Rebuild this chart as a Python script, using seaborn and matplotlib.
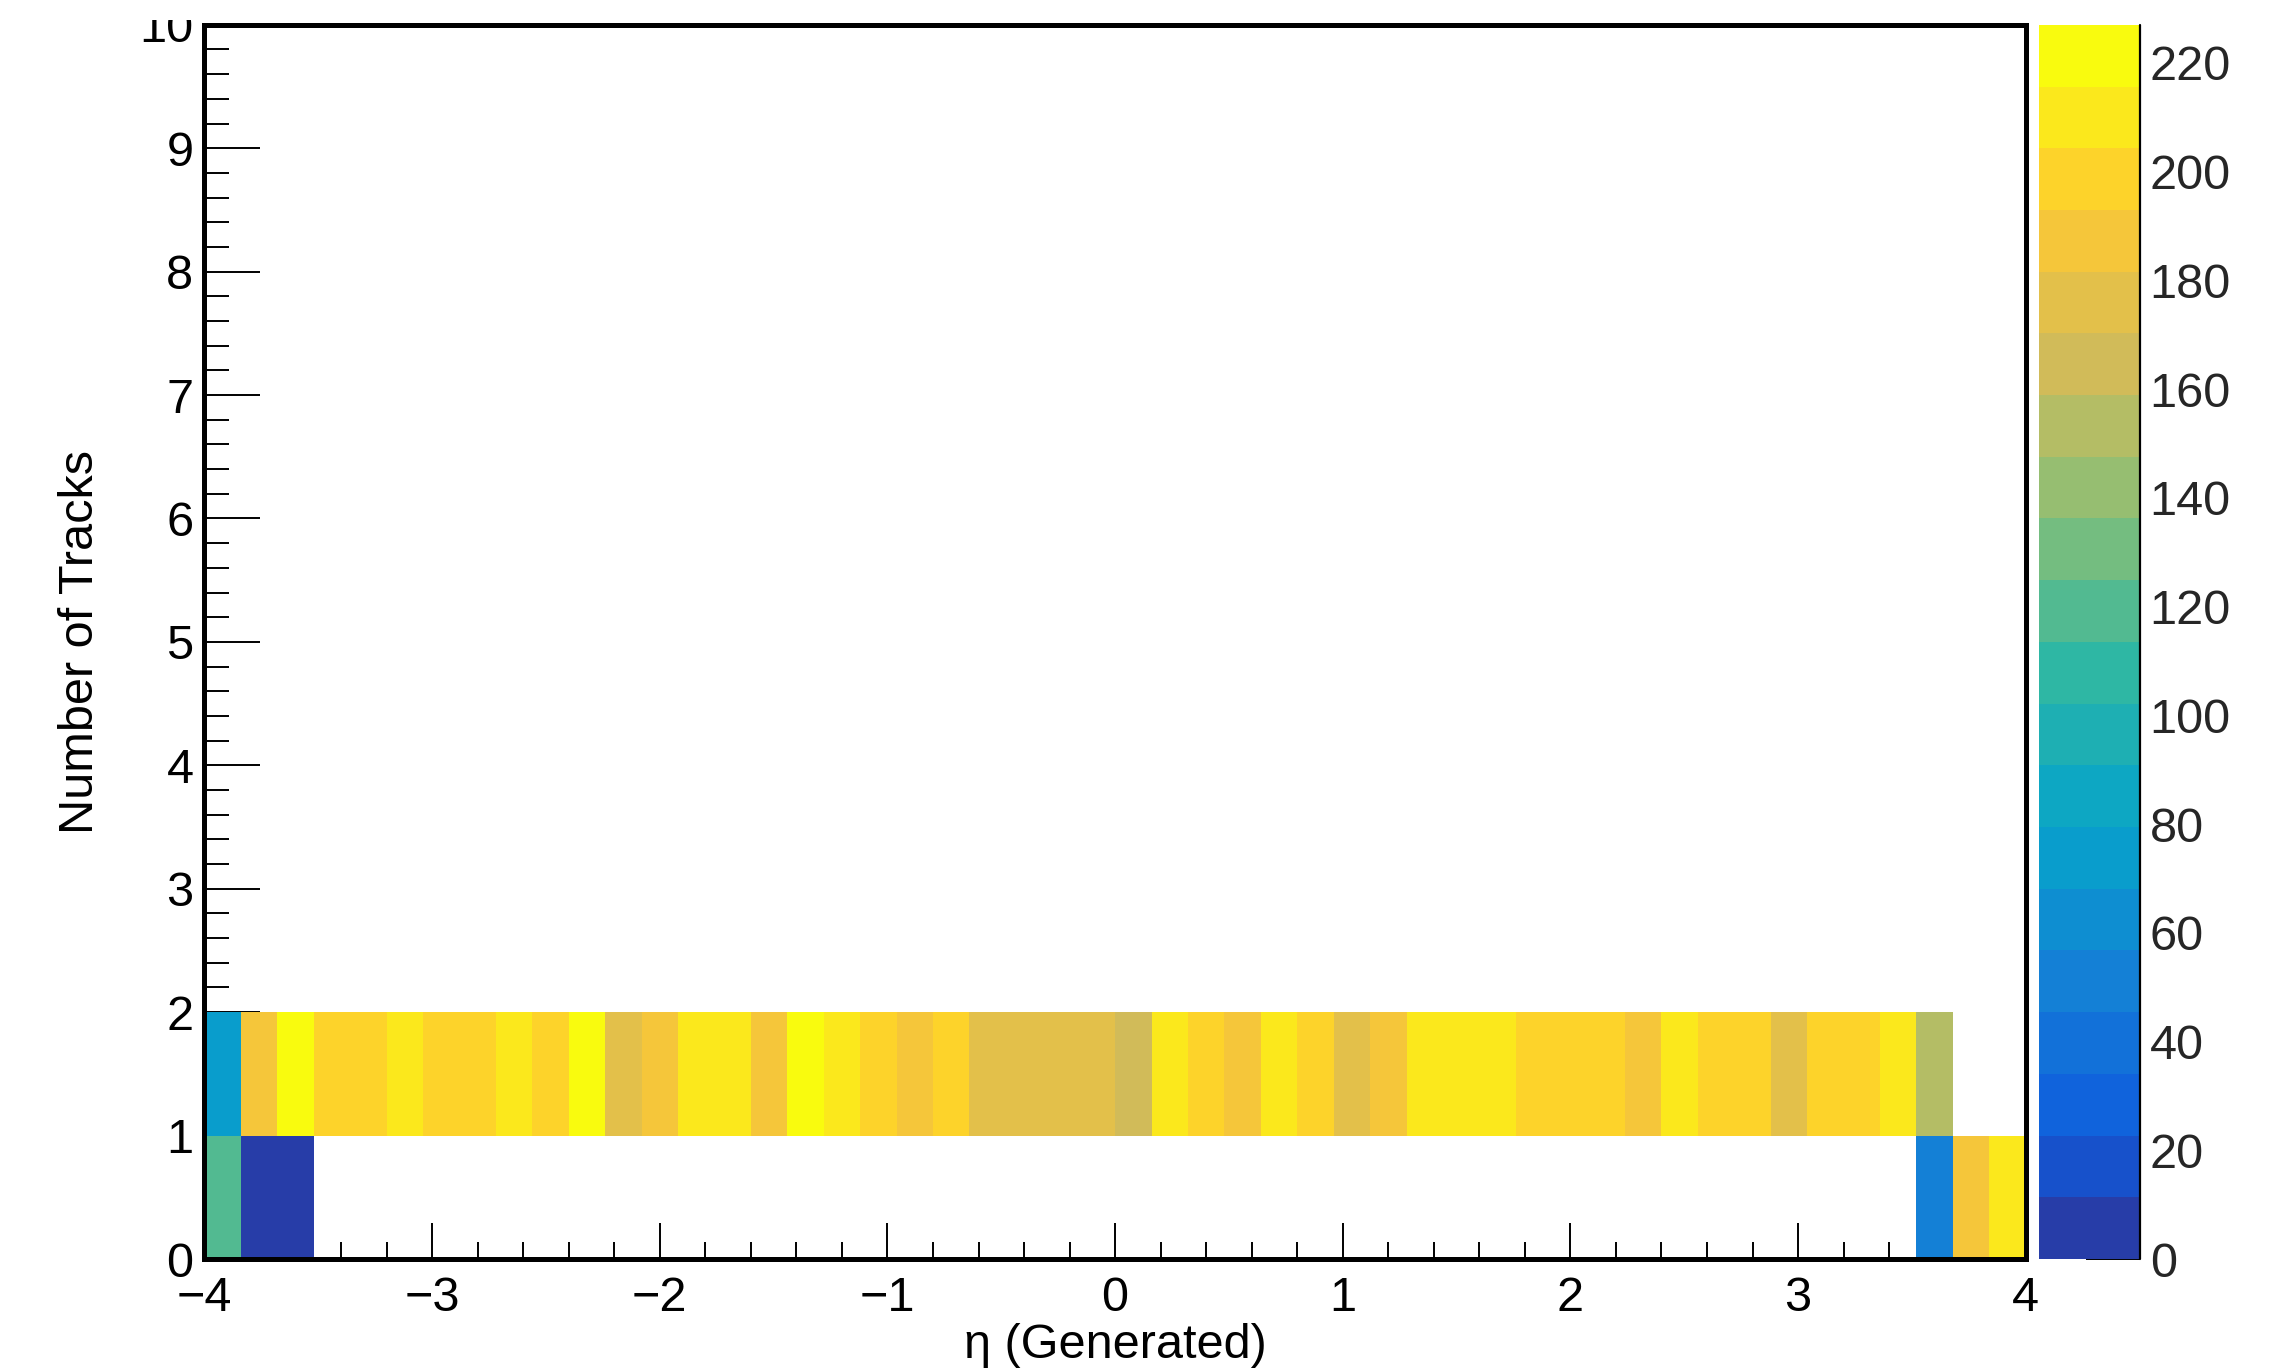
import numpy as np
import pandas as pd
import matplotlib
matplotlib.use("Agg")
import matplotlib.pyplot as plt
from matplotlib.colors import ListedColormap
from matplotlib.ticker import MultipleLocator, FixedLocator
from matplotlib.transforms import Bbox, TransformedBbox, IdentityTransform
import seaborn as sns

# ---------------- data ----------------
eta_edges = np.linspace(-4.0, 4.0, 51)          # 50 bins of width 0.16
eta_centers = 0.5 * (eta_edges[:-1] + eta_edges[1:])

# Number of Tracks = 1  (row 1 <= y < 2)
counts_1track = [74, 187, 227, 199, 197, 210, 200, 198, 209, 196,
                 220, 176, 188, 211, 208, 186, 222, 210, 199, 187,
                 200, 177, 176, 175, 178, 165, 209, 198, 186, 211,
                 199, 176, 188, 210, 208, 212, 198, 200, 197, 187,
                 210, 198, 200, 177, 199, 197, 209, 152, 0, 0]
# Number of Tracks = 0  (row 0 <= y < 1)
counts_0track = [119, 5, 6, 0, 0, 0, 0, 0, 0, 0,
                 0, 0, 0, 0, 0, 0, 0, 0, 0, 0,
                 0, 0, 0, 0, 0, 0, 0, 0, 0, 0,
                 0, 0, 0, 0, 0, 0, 0, 0, 0, 0,
                 0, 0, 0, 0, 0, 0, 0, 51, 187, 210]

y_ticks = [0, 1, 2, 3, 4, 5, 6, 7, 8, 9, 10]
colorbar_ticks = [0, 20, 40, 60, 80, 100, 120, 140, 160, 180, 200, 220]

df = pd.DataFrame({
    "eta": np.concatenate([eta_centers, eta_centers]),
    "ntracks": np.concatenate([np.zeros(50), np.ones(50)]),
    "count": np.concatenate([counts_0track, counts_1track]).astype(float),
})
zmax = df["count"].max()

# ---------------- ROOT kBird palette, 20 contour levels ----------------
stops = [0.0, 0.125, 0.25, 0.375, 0.5, 0.625, 0.75, 0.875, 1.0]
red   = [0.2082, 0.0592, 0.0780, 0.0232, 0.1802, 0.5301, 0.8186, 0.9956, 0.9764]
green = [0.1664, 0.3599, 0.5041, 0.6419, 0.7178, 0.7492, 0.7328, 0.7862, 0.9832]
blue  = [0.5293, 0.8684, 0.8385, 0.7914, 0.6425, 0.4662, 0.3499, 0.1968, 0.0539]
t = np.linspace(0, 1, 255)
full = np.stack([np.interp(t, stops, red), np.interp(t, stops, green),
                 np.interp(t, stops, blue)], axis=1)
ndiv = 20
idx = [min(254, int((i + 0.99) * 255 / ndiv)) for i in range(ndiv)]
bird20 = ListedColormap(full[idx])

# ---------------- figure ----------------
sns.set_style("white")
plt.rcParams["font.family"] = ["Liberation Sans", "DejaVu Sans"]
plt.rcParams["axes.unicode_minus"] = True

W, H = 2290, 1370
fig = plt.figure(figsize=(W / 100, H / 100), dpi=100)
ax = fig.add_axes([0.0893, 0.0810, 0.7953, 0.9009])
cax = fig.add_axes([0.8904, 0.0810, 0.0441, 0.9009])

sns.histplot(data=df, x="eta", y="ntracks", weights="count",
             bins=(50, 10), binrange=((-4, 4), (0, 10)),
             cmap=bird20, vmin=0, vmax=zmax,
             cbar=True, cbar_ax=cax, ax=ax)

ax.set_xlim(-4, 4)
ax.set_ylim(0, 10)
ax.xaxis.set_major_locator(MultipleLocator(1))
ax.xaxis.set_minor_locator(MultipleLocator(0.2))
ax.yaxis.set_major_locator(FixedLocator(y_ticks))
ax.yaxis.set_minor_locator(MultipleLocator(0.2))

fs = 35
ax.tick_params(axis="x", which="major", direction="in", length=26, width=1.4,
               labelsize=fs, pad=12, top=False, bottom=True, color="black")
ax.tick_params(axis="x", which="minor", direction="in", length=12, width=1.4,
               top=False, bottom=True, color="black")
ax.tick_params(axis="y", which="major", direction="in", length=40, width=1.4,
               labelsize=fs, pad=8, left=True, right=False, color="black")
ax.tick_params(axis="y", which="minor", direction="in", length=18, width=1.4,
               left=True, right=False, color="black")
for lab in ax.get_xticklabels() + ax.get_yticklabels():
    lab.set_color("black")

for sp in ax.spines.values():
    sp.set_visible(True)
    sp.set_linewidth(3.6)
    sp.set_color("black")

ax.set_xlabel("η (Generated)", fontsize=fs, color="black")
ax.set_ylabel("Number of Tracks", fontsize=fs, color="black")
ax.xaxis.set_label_coords(0.5, -0.052)
ax.yaxis.set_label_coords(-0.056, 0.5)

# the top "10" label is cut by the canvas edge in the reference
clip = TransformedBbox(Bbox([[0, 0], [W, H - 20]]), IdentityTransform())
for tick in ax.yaxis.get_major_ticks():
    tick.label1.set_clip_box(clip)
    tick.label1.set_clip_on(True)

# colorbar styling
cbar = ax.collections[0].colorbar
cbar.outline.set_visible(False)
cbar.set_ticks(colorbar_ticks)
cax.minorticks_off()
cax.tick_params(axis="y", which="major", direction="in", length=39, width=1.4,
                labelsize=fs, pad=7, right=True, left=False,
                labelright=True, labelleft=False, color="black")
cax.plot([1, 1], [0, 1], transform=cax.transAxes, color="black",
         lw=1.6, clip_on=False)

fig.savefig("out.png", dpi=100)
